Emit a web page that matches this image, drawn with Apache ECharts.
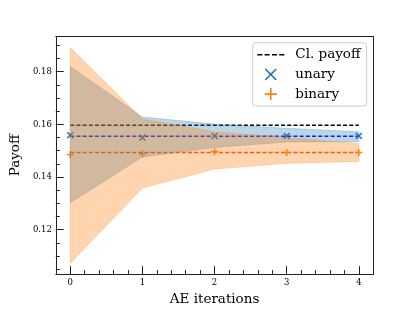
<!DOCTYPE html>
<html>
<head>
<meta charset="utf-8">
<script src="https://cdn.jsdelivr.net/npm/echarts@6/dist/echarts.min.js"></script>
<style>html,body{margin:0;padding:0;background:#fff}#c{width:415px;height:311px}</style>
</head>
<body>
<div id="c"></div>
<script>
// ---- data ----
var iterations = [0, 1, 2, 3, 4];
var clPayoff = [0.1597, 0.1597, 0.1597, 0.1597, 0.1597];
var unary = [0.1559, 0.1550, 0.1556, 0.1556, 0.1556];
var unaryMean = [0.1555, 0.1555, 0.1555, 0.1555, 0.1555];
var unaryUpper = [0.1820, 0.1628, 0.1601, 0.1585, 0.1572];
var unaryLower = [0.1302, 0.1476, 0.1512, 0.1533, 0.1534];
var binary = [0.1485, 0.1488, 0.1497, 0.1493, 0.1493];
var binaryMean = [0.1493, 0.1493, 0.1493, 0.1493, 0.1493];
var binaryUpper = [0.1892, 0.1620, 0.1572, 0.1550, 0.1527];
var binaryLower = [0.1072, 0.1358, 0.1430, 0.1452, 0.1459];
var xTicks = [0, 1, 2, 3, 4];
var xMinorTicks = [0.2, 0.4, 0.6, 0.8, 1.2, 1.4, 1.6, 1.8, 2.2, 2.4, 2.6, 2.8, 3.2, 3.4, 3.6, 3.8];
var yTicks = [0.12, 0.14, 0.16, 0.18];
var yMinorTicks = [0.105, 0.11, 0.115, 0.125, 0.13, 0.135, 0.145, 0.15, 0.155, 0.165, 0.17, 0.175, 0.185, 0.19];

var FONT = 'DejaVu Serif';
var BLUE = '#1f77b4', ORANGE = '#ff7f0e';
var BLUE_FILL = 'rgba(31,119,180,0.3)', ORANGE_FILL = 'rgba(255,127,14,0.33)';
var XMIN = -0.2, XMAX = 4.2, YMIN = 0.1031, YMAX = 0.1933;

function pairs(ys) { return iterations.map(function (x, i) { return [x, ys[i]]; }); }

var X_SYM = 'path://M0,1.5L1.5,0L5,3.5L8.5,0L10,1.5L6.5,5L10,8.5L8.5,10L5,6.5L1.5,10L0,8.5L3.5,5Z';
var P_SYM = 'path://M4,0H6V4H10V6H6V10H4V6H0V4H4Z';
var X_ICON = 'path://M0,0.9L0.9,0L5,4.1L9.1,0L10,0.9L5.9,5L10,9.1L9.1,10L5,5.9L0.9,10L0,9.1L4.1,5Z';
var P_ICON = 'path://M4.35,0H5.65V4.35H10V5.65H5.65V10H4.35V5.65H0V4.35H4.35Z';
var DASH_ICON = 'path://M0,0H5V1.5H0Z M7.33,0H12.33V1.5H7.33Z M14.67,0H19.67V1.5H14.67Z M22,0H27V1.5H22Z';

var axisLineStyle = { color: '#222', width: 1 };

function bandSeries(name, upper, lower, fill, z) {
  return {
    name: name, type: 'custom', coordinateSystem: 'cartesian2d', z: z, silent: true,
    data: pairs(upper), encode: { x: 0, y: 1 },
    renderItem: function (params, api) {
      if (params.dataIndex !== 0) return null;
      var pts = [];
      for (var i = 0; i < iterations.length; i++) pts.push(api.coord([iterations[i], upper[i]]));
      for (var j = iterations.length - 1; j >= 0; j--) pts.push(api.coord([iterations[j], lower[j]]));
      return { type: 'polygon', shape: { points: pts },
        style: { fill: fill, stroke: fill, lineWidth: 0.8 } };
    }
  };
}

var chart = echarts.init(document.getElementById('c'), null, { renderer: 'canvas' });
chart.setOption({
  animation: false,
  backgroundColor: '#fff',
  textStyle: { fontFamily: FONT },
  grid: { left: 52, right: 41.7, top: 36.7, bottom: 34.3, containLabel: false },
  xAxis: [{
    type: 'value', min: XMIN, max: XMAX, position: 'bottom',
    name: 'AE iterations', nameLocation: 'middle', nameGap: 15,
    nameTextStyle: { fontFamily: FONT, fontSize: 13.5, color: '#000' },
    axisLine: { show: true, onZero: false, lineStyle: axisLineStyle },
    axisTick: { show: true, inside: true, length: 8, customValues: xTicks, lineStyle: { color: '#222' } },
    axisLabel: { show: true, customValues: xTicks, margin: 4, fontFamily: FONT, fontSize: 8.5, color: '#000',
      formatter: function (v) { return String(v); } },
    splitLine: { show: false }
  }, {
    type: 'value', min: XMIN, max: XMAX, position: 'bottom',
    axisLine: { show: false, onZero: false },
    axisTick: { show: true, inside: true, length: 4, customValues: xMinorTicks, lineStyle: { color: '#222' } },
    axisLabel: { show: false }, splitLine: { show: false }
  }, {
    type: 'value', min: XMIN, max: XMAX, position: 'top',
    axisLine: { show: true, onZero: false, lineStyle: axisLineStyle }, axisTick: { show: false },
    axisLabel: { show: false }, splitLine: { show: false }
  }],
  yAxis: [{
    type: 'value', min: YMIN, max: YMAX, position: 'left',
    name: 'Payoff', nameLocation: 'middle', nameGap: 23.5, nameRotate: 90,
    nameTextStyle: { fontFamily: FONT, fontSize: 13.5, color: '#000' },
    axisLine: { show: true, onZero: false, lineStyle: axisLineStyle },
    axisTick: { show: true, inside: true, length: 8, customValues: yTicks, lineStyle: { color: '#222' } },
    axisLabel: { show: true, customValues: yTicks, margin: 4, fontFamily: FONT, fontSize: 8.5, color: '#000',
      formatter: function (v) { return v.toFixed(2); } },
    splitLine: { show: false }
  }, {
    type: 'value', min: YMIN, max: YMAX, position: 'left',
    axisLine: { show: false, onZero: false },
    axisTick: { show: true, inside: true, length: 4, customValues: yMinorTicks, lineStyle: { color: '#222' } },
    axisLabel: { show: false }, splitLine: { show: false }
  }, {
    type: 'value', min: YMIN, max: YMAX, position: 'right',
    axisLine: { show: true, onZero: false, lineStyle: axisLineStyle }, axisTick: { show: false },
    axisLabel: { show: false }, splitLine: { show: false }
  }],
  legend: {
    left: 252.7, top: 42.7, orient: 'vertical', z: 20,
    padding: [5, 6, 5, 4.6], itemGap: 5.7, itemWidth: 27, itemHeight: 12,
    backgroundColor: 'rgba(255,255,255,0.8)', borderColor: '#cfcfcf', borderWidth: 1, borderRadius: 3,
    selectedMode: false,
    textStyle: { fontFamily: FONT, fontSize: 13.5, color: '#000', lineHeight: 14, padding: [0, 0, 0, 6] },
    data: [
      { name: 'Cl. payoff', icon: DASH_ICON, itemStyle: { color: '#000' } },
      { name: 'unary', icon: X_ICON, itemStyle: { color: BLUE } },
      { name: 'binary', icon: P_ICON, itemStyle: { color: ORANGE } }
    ]
  },
  series: [
    { name: 'Cl. payoff', type: 'line', data: pairs(clPayoff), symbol: 'none', z: 2,
      color: '#000', lineStyle: { color: '#000', width: 1.5, type: [4, 2.2] } },
    { name: 'unary mean', type: 'line', data: pairs(unaryMean), symbol: 'none', z: 2,
      lineStyle: { color: '#0000ff', width: 1.5, type: [4, 2.2] } },
    { name: 'binary mean', type: 'line', data: pairs(binaryMean), symbol: 'none', z: 2,
      lineStyle: { color: '#ff4500', width: 1.5, type: [4, 2.2] } },
    { name: 'unary', type: 'scatter', data: pairs(unary), symbol: X_SYM, symbolSize: 7, z: 2,
      itemStyle: { color: BLUE, opacity: 1 } },
    { name: 'binary', type: 'scatter', data: pairs(binary), symbol: P_SYM, symbolSize: 7, z: 2,
      itemStyle: { color: ORANGE, opacity: 1 } },
    bandSeries('unary band', unaryUpper, unaryLower, BLUE_FILL, 3),
    bandSeries('binary band', binaryUpper, binaryLower, ORANGE_FILL, 4)
  ]
});
</script>
</body>
</html>
